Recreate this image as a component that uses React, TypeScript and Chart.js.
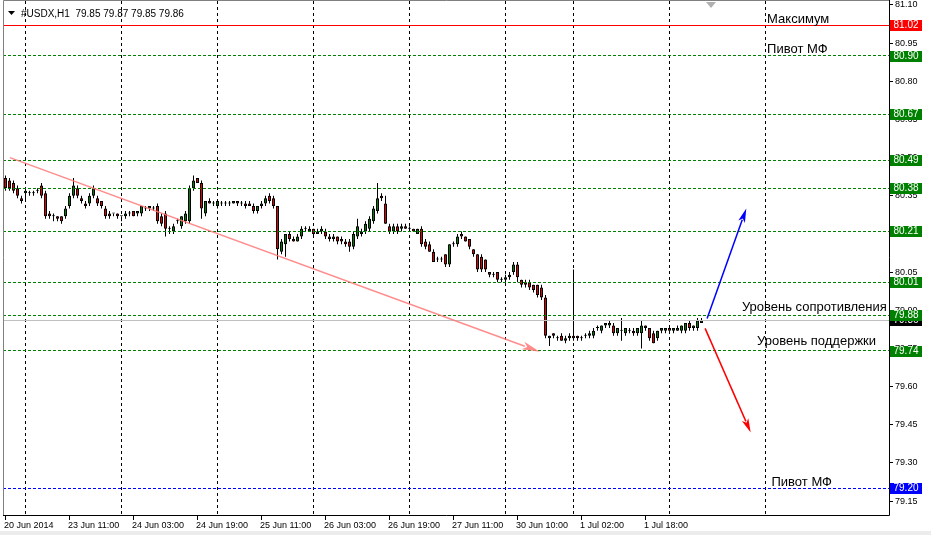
import React, { useEffect, useRef } from "react";
import { Chart, registerables } from "chart.js";

Chart.register(...registerables);

// ---------------- data ----------------
const headerText = "#USDX,H1  79.85 79.87 79.85 79.86";

// H1 candles, bar index 0..174 (oldest -> newest)
const opens = [
  80.42, 80.41, 80.40, 80.38, 80.34, 80.36, 80.36, 80.36, 80.37, 80.39,
  80.36, 80.28, 80.27, 80.27, 80.27, 80.27, 80.31, 80.35, 80.38, 80.34,
  80.32, 80.32, 80.35, 80.34, 80.33, 80.30, 80.28, 80.28, 80.28, 80.27,
  80.27, 80.28, 80.29, 80.28, 80.28, 80.30, 80.30, 80.30, 80.31, 80.27,
  80.28, 80.22, 80.21, 80.25, 80.23, 80.25, 80.25, 80.38, 80.42, 80.40,
  80.28, 80.33, 80.32, 80.31, 80.32, 80.32, 80.32, 80.32, 80.33, 80.32,
  80.32, 80.32, 80.31, 80.29, 80.31, 80.32, 80.35, 80.34, 80.31, 80.13,
  80.16, 80.20, 80.18, 80.17, 80.19, 80.22, 80.21, 80.22, 80.20, 80.21,
  80.21, 80.19, 80.18, 80.19, 80.18, 80.17, 80.17, 80.15, 80.19, 80.20,
  80.21, 80.22, 80.25, 80.29, 80.35, 80.32, 80.23, 80.21, 80.23, 80.22,
  80.23, 80.22, 80.22, 80.20, 80.22, 80.17, 80.16, 80.13, 80.10, 80.10,
  80.12, 80.08, 80.16, 80.16, 80.20, 80.19, 80.18, 80.14, 80.12, 80.11,
  80.10, 80.05, 80.04, 80.05, 80.02, 80.02, 80.03, 80.05, 80.08, 80.02,
  80.01, 80.01, 80.00, 80.00, 79.99, 79.95, 79.79, 79.81, 79.79, 79.80,
  79.78, 79.79, 79.80, 79.80, 79.79, 79.80, 79.80, 79.80, 79.83, 79.82,
  79.84, 79.84, 79.84, 79.81, 79.82, 79.81, 79.82, 79.82, 79.81, 79.81,
  79.84, 79.83, 79.81, 79.79, 79.82, 79.82, 79.83, 79.82, 79.82, 79.82,
  79.82, 79.85, 79.83, 79.83, 79.85,
];
const highs = [
  80.43, 80.42, 80.41, 80.39, 80.35, 80.38, 80.37, 80.37, 80.38, 80.40,
  80.37, 80.29, 80.28, 80.27, 80.27, 80.31, 80.36, 80.42, 80.39, 80.35,
  80.33, 80.36, 80.39, 80.35, 80.33, 80.31, 80.29, 80.28, 80.28, 80.27,
  80.29, 80.29, 80.29, 80.29, 80.31, 80.31, 80.31, 80.31, 80.32, 80.28,
  80.29, 80.23, 80.24, 80.26, 80.27, 80.29, 80.39, 80.43, 80.42, 80.41,
  80.33, 80.34, 80.33, 80.33, 80.33, 80.33, 80.33, 80.33, 80.33, 80.33,
  80.33, 80.33, 80.32, 80.31, 80.33, 80.35, 80.36, 80.35, 80.31, 80.18,
  80.20, 80.21, 80.19, 80.20, 80.23, 80.23, 80.23, 80.22, 80.22, 80.23,
  80.22, 80.20, 80.20, 80.19, 80.19, 80.18, 80.18, 80.21, 80.26, 80.22,
  80.25, 80.27, 80.31, 80.40, 80.36, 80.35, 80.24, 80.24, 80.24, 80.24,
  80.24, 80.23, 80.22, 80.22, 80.23, 80.18, 80.17, 80.14, 80.11, 80.11,
  80.12, 80.16, 80.17, 80.20, 80.21, 80.19, 80.18, 80.14, 80.12, 80.12,
  80.10, 80.05, 80.05, 80.05, 80.03, 80.04, 80.05, 80.09, 80.09, 80.02,
  80.02, 80.02, 80.00, 80.00, 80.00, 79.96, 79.80, 79.81, 79.80, 79.81,
  79.80, 79.81, 80.06, 79.80, 79.80, 79.81, 79.82, 79.83, 79.84, 79.84,
  79.85, 79.86, 79.85, 79.83, 79.87, 79.83, 79.83, 79.83, 79.83, 79.86,
  79.84, 79.83, 79.82, 79.82, 79.83, 79.83, 79.84, 79.83, 79.84, 79.84,
  79.85, 79.86, 79.84, 79.87, 79.87,
];
const lows = [
  80.37, 80.37, 80.36, 80.34, 80.32, 80.33, 80.35, 80.35, 80.36, 80.34,
  80.26, 80.26, 80.25, 80.25, 80.24, 80.26, 80.30, 80.34, 80.34, 80.32,
  80.30, 80.31, 80.34, 80.31, 80.30, 80.26, 80.26, 80.27, 80.26, 80.25,
  80.26, 80.27, 80.27, 80.27, 80.27, 80.29, 80.29, 80.29, 80.24, 80.23,
  80.19, 80.20, 80.20, 80.24, 80.22, 80.24, 80.24, 80.37, 80.40, 80.26,
  80.27, 80.32, 80.31, 80.30, 80.31, 80.31, 80.31, 80.32, 80.31, 80.31,
  80.30, 80.31, 80.28, 80.28, 80.30, 80.31, 80.32, 80.30, 80.10, 80.12,
  80.11, 80.17, 80.17, 80.17, 80.18, 80.21, 80.21, 80.19, 80.20, 80.20,
  80.18, 80.17, 80.17, 80.16, 80.16, 80.15, 80.13, 80.14, 80.18, 80.19,
  80.20, 80.21, 80.24, 80.28, 80.33, 80.24, 80.20, 80.20, 80.20, 80.21,
  80.22, 80.21, 80.21, 80.20, 80.15, 80.14, 80.13, 80.09, 80.09, 80.09,
  80.07, 80.07, 80.15, 80.15, 80.18, 80.17, 80.14, 80.11, 80.05, 80.05,
  80.05, 80.03, 80.03, 80.01, 80.01, 80.01, 80.02, 80.04, 80.01, 79.99,
  79.99, 79.98, 79.97, 79.95, 79.94, 79.79, 79.76, 79.79, 79.78, 79.78,
  79.77, 79.78, 79.78, 79.78, 79.78, 79.79, 79.79, 79.79, 79.82, 79.81,
  79.83, 79.83, 79.80, 79.80, 79.78, 79.80, 79.81, 79.80, 79.80, 79.75,
  79.82, 79.78, 79.77, 79.78, 79.81, 79.81, 79.82, 79.81, 79.82, 79.81,
  79.81, 79.82, 79.82, 79.82, 79.85,
];
const closes = [
  80.38, 80.38, 80.37, 80.35, 80.33, 80.37, 80.36, 80.36, 80.37, 80.35,
  80.27, 80.27, 80.27, 80.26, 80.25, 80.30, 80.35, 80.39, 80.35, 80.33,
  80.31, 80.35, 80.38, 80.32, 80.31, 80.27, 80.27, 80.28, 80.27, 80.27,
  80.28, 80.28, 80.27, 80.29, 80.31, 80.30, 80.31, 80.30, 80.25, 80.24,
  80.22, 80.22, 80.23, 80.25, 80.27, 80.28, 80.38, 80.41, 80.40, 80.30,
  80.33, 80.32, 80.32, 80.33, 80.32, 80.32, 80.32, 80.33, 80.32, 80.32,
  80.31, 80.31, 80.29, 80.31, 80.32, 80.34, 80.33, 80.31, 80.14, 80.17,
  80.20, 80.18, 80.17, 80.19, 80.22, 80.22, 80.22, 80.20, 80.21, 80.22,
  80.19, 80.18, 80.19, 80.17, 80.17, 80.16, 80.15, 80.20, 80.23, 80.21,
  80.24, 80.26, 80.30, 80.34, 80.34, 80.24, 80.21, 80.23, 80.21, 80.23,
  80.22, 80.22, 80.21, 80.22, 80.16, 80.15, 80.13, 80.09, 80.10, 80.10,
  80.08, 80.16, 80.16, 80.19, 80.19, 80.17, 80.15, 80.12, 80.06, 80.06,
  80.06, 80.04, 80.04, 80.02, 80.02, 80.03, 80.04, 80.08, 80.03, 80.00,
  80.00, 79.99, 79.98, 79.96, 79.95, 79.80, 79.80, 79.80, 79.79, 79.78,
  79.79, 79.80, 79.79, 79.79, 79.79, 79.80, 79.81, 79.82, 79.83, 79.84,
  79.85, 79.85, 79.81, 79.83, 79.82, 79.83, 79.82, 79.81, 79.83, 79.84,
  79.83, 79.79, 79.77, 79.82, 79.83, 79.83, 79.82, 79.83, 79.83, 79.84,
  79.85, 79.83, 79.84, 79.86, 79.86,
];

// time axis
const timeTickBars = [0, 16, 32, 48, 64, 80, 96, 112, 128, 144, 160];
const timeTickLabels = [
  "20 Jun 2014", "23 Jun 11:00", "24 Jun 03:00", "24 Jun 19:00", "25 Jun 11:00",
  "26 Jun 03:00", "26 Jun 19:00", "27 Jun 11:00", "30 Jun 10:00", "1 Jul 02:00", "1 Jul 18:00",
];
const gridBars = [5, 29, 53, 77, 101, 125, 142, 166, 190];

// price axis
const priceTicks = [81.1, 80.95, 80.8, 80.65, 80.5, 80.35, 80.2, 80.05, 79.9, 79.75, 79.6, 79.45, 79.3, 79.15];
const priceMin = 79.0953;
const priceMax = 81.1157;
const barMin = -0.625;
const barMax = 220.875;

// levels
const maximumLevel = 81.02;
const greenLevels = [80.9, 80.67, 80.49, 80.38, 80.21, 80.01, 79.88, 79.74];
const pivotLowLevel = 79.2;
const lastPrice = 79.86;

// drawn objects (bar index, price)
const trendBars = [1.1, 133.6];
const trendPrices = [80.5, 79.737];
const upArrowBars = [175.4, 185.2];
const upArrowPrices = [79.868, 80.3];
const downArrowBars = [174.9, 186.3];
const downArrowPrices = [79.829, 79.42];

// text objects
const noteTexts = ["Максимум", "Пивот МФ", "Уровень сопротивления", "Уровень поддержки", "Пивот МФ"];
const noteBars = [190.4, 190.4, 184.1, 187.9, 191.5];
const notePrices = [81.029, 80.911, 79.899, 79.762, 79.209];

// ---------------- drawing ----------------
const FONT = "'Liberation Sans', Arial, sans-serif";
const crisp = (v: number) => Math.floor(v) + 0.5;

function drawArrow(ctx: CanvasRenderingContext2D, x1: number, y1: number, x2: number, y2: number, color: string, lw: number, headLen: number, headW: number) {
  const ang = Math.atan2(y2 - y1, x2 - x1);
  const bx = x2 - Math.cos(ang) * headLen;
  const by = y2 - Math.sin(ang) * headLen;
  ctx.save();
  ctx.strokeStyle = color;
  ctx.fillStyle = color;
  ctx.lineWidth = lw;
  ctx.setLineDash([]);
  ctx.beginPath();
  ctx.moveTo(x1, y1);
  ctx.lineTo(bx + Math.cos(ang) * 2, by + Math.sin(ang) * 2);
  ctx.stroke();
  const nx = -Math.sin(ang), ny = Math.cos(ang);
  const nbx = x2 - Math.cos(ang) * headLen * 0.75;
  const nby = y2 - Math.sin(ang) * headLen * 0.75;
  ctx.beginPath();
  ctx.moveTo(x2, y2);
  ctx.lineTo(bx + nx * headW, by + ny * headW);
  ctx.lineTo(nbx, nby);
  ctx.lineTo(bx - nx * headW, by - ny * headW);
  ctx.closePath();
  ctx.fill();
  ctx.restore();
}

const mt4Plugin = {
  id: "mt4",
  beforeDraw(chart: any) {
    const { ctx, width, height } = chart;
    ctx.save();
    ctx.fillStyle = "#ffffff";
    ctx.fillRect(0, 0, width, height);
    ctx.fillStyle = "#ececec";
    ctx.fillRect(0, 531, width, height - 531);
    ctx.restore();
  },
  beforeDatasetsDraw(chart: any) {
    const { ctx, chartArea: a, scales } = chart;
    const x = scales.x;
    ctx.save();
    ctx.strokeStyle = "#000000";
    ctx.lineWidth = 1;
    ctx.setLineDash([3, 3]);
    gridBars.forEach((b) => {
      const px = crisp(x.getPixelForValue(b));
      ctx.beginPath();
      ctx.moveTo(px, a.top);
      ctx.lineTo(px, a.bottom);
      ctx.stroke();
    });
    ctx.restore();
  },
  afterDatasetsDraw(chart: any) {
    const { ctx, chartArea: a, scales } = chart;
    const x = scales.x, y = scales.y;
    ctx.save();
    ctx.lineWidth = 1;
    // last price line
    ctx.setLineDash([]);
    ctx.strokeStyle = "#c0c0c0";
    let py = crisp(y.getPixelForValue(lastPrice));
    ctx.beginPath(); ctx.moveTo(a.left, py); ctx.lineTo(a.right, py); ctx.stroke();
    // maximum
    ctx.strokeStyle = "#ff0000";
    py = crisp(y.getPixelForValue(maximumLevel));
    ctx.beginPath(); ctx.moveTo(a.left, py); ctx.lineTo(a.right, py); ctx.stroke();
    // green levels
    ctx.setLineDash([3, 2]);
    ctx.strokeStyle = "#008000";
    greenLevels.forEach((v) => {
      const p = crisp(y.getPixelForValue(v));
      ctx.beginPath(); ctx.moveTo(a.left, p); ctx.lineTo(a.right, p); ctx.stroke();
    });
    // low pivot
    ctx.strokeStyle = "#0000ff";
    py = crisp(y.getPixelForValue(pivotLowLevel));
    ctx.beginPath(); ctx.moveTo(a.left, py); ctx.lineTo(a.right, py); ctx.stroke();
    ctx.restore();

    // trend line & arrows
    drawArrow(ctx,
      x.getPixelForValue(trendBars[0]), y.getPixelForValue(trendPrices[0]),
      x.getPixelForValue(trendBars[1]), y.getPixelForValue(trendPrices[1]),
      "rgba(255,120,120,0.85)", 1.5, 18, 4);
    drawArrow(ctx,
      x.getPixelForValue(upArrowBars[0]), y.getPixelForValue(upArrowPrices[0]),
      x.getPixelForValue(upArrowBars[1]), y.getPixelForValue(upArrowPrices[1]),
      "#0000ff", 1.5, 14, 3.5);
    drawArrow(ctx,
      x.getPixelForValue(downArrowBars[0]), y.getPixelForValue(downArrowPrices[0]),
      x.getPixelForValue(downArrowBars[1]), y.getPixelForValue(downArrowPrices[1]),
      "#ff0000", 1.5, 14, 3.5);
  },
  afterDraw(chart: any) {
    const { ctx, chartArea: a, scales } = chart;
    const x = scales.x, y = scales.y;
    ctx.save();
    ctx.setLineDash([]);
    ctx.lineWidth = 1;
    // frame
    ctx.strokeStyle = "#808080";
    ctx.beginPath();
    ctx.moveTo(a.left + 0.5, a.bottom); ctx.lineTo(a.left + 0.5, a.top - 0.5); ctx.lineTo(a.right, a.top - 0.5);
    ctx.stroke();
    ctx.strokeStyle = "#000000";
    ctx.beginPath();
    ctx.moveTo(a.right + 0.5, 0); ctx.lineTo(a.right + 0.5, a.bottom + 0.5); ctx.lineTo(a.left, a.bottom + 0.5);
    ctx.stroke();

    // chart shift marker
    ctx.fillStyle = "#b0b0b0";
    ctx.beginPath();
    ctx.moveTo(706, 2); ctx.lineTo(716, 2); ctx.lineTo(711, 8); ctx.closePath();
    ctx.fill();

    // price ticks
    ctx.fillStyle = "#000000";
    ctx.font = `9px ${FONT}`;
    ctx.textAlign = "left";
    ctx.textBaseline = "middle";
    priceTicks.forEach((v) => {
      const p = crisp(y.getPixelForValue(v));
      ctx.beginPath(); ctx.moveTo(a.right, p); ctx.lineTo(a.right + 4, p); ctx.stroke();
      ctx.fillText(v.toFixed(2), a.right + 6, p);
    });

    // time ticks
    ctx.textBaseline = "alphabetic";
    timeTickBars.forEach((b, i) => {
      const px = crisp(x.getPixelForValue(b));
      ctx.beginPath(); ctx.moveTo(px, a.bottom + 1); ctx.lineTo(px, a.bottom + 5); ctx.stroke();
      ctx.fillText(timeTickLabels[i], px - 1.5, a.bottom + 12.5);
    });

    // price boxes
    const box = (v: number, bg: string) => {
      const p = y.getPixelForValue(v);
      ctx.fillStyle = bg;
      ctx.fillRect(a.right + 1, Math.round(p) - 5, 32, 11);
      ctx.fillStyle = "#ffffff";
      ctx.font = `10px ${FONT}`;
      ctx.textAlign = "center";
      ctx.textBaseline = "middle";
      ctx.fillText(v.toFixed(2), a.right + 17, Math.round(p) + 0.5);
    };
    box(lastPrice, "#000000");
    box(maximumLevel, "#ff0000");
    greenLevels.forEach((v) => box(v, "#008000"));
    box(pivotLowLevel, "#0000ff");

    // text objects
    ctx.fillStyle = "#000000";
    ctx.font = `13px ${FONT}`;
    ctx.textAlign = "left";
    ctx.textBaseline = "alphabetic";
    noteTexts.forEach((t, i) => {
      ctx.fillText(t, x.getPixelForValue(noteBars[i]), y.getPixelForValue(notePrices[i]));
    });

    // header
    ctx.fillStyle = "#000000";
    ctx.beginPath();
    ctx.moveTo(8, 11); ctx.lineTo(15, 11); ctx.lineTo(11.5, 15); ctx.closePath();
    ctx.fill();
    ctx.font = `10px ${FONT}`;
    ctx.fillText(headerText, 21, 17);
    ctx.restore();
  },
};

export default function App() {
  const ref = useRef<HTMLCanvasElement>(null);
  useEffect(() => {
    const bodies = opens.map((o, i) => ({ x: i, y: [o, closes[i]] }));
    const wicks = opens.map((_, i) => ({ x: i, y: [lows[i], highs[i]] }));
    const bodyColors = opens.map((o, i) => (closes[i] > o ? "#008000" : closes[i] < o ? "#e00000" : "#000000"));
    const chart = new Chart(ref.current as HTMLCanvasElement, {
      type: "bar",
      data: {
        datasets: [
          {
            label: "body",
            data: bodies as any,
            backgroundColor: bodyColors,
            borderColor: "#000000",
            borderWidth: 1,
            borderSkipped: false,
            barThickness: 3,
            minBarLength: 1,
            grouped: false,
            order: 0,
            inflateAmount: 0,
          } as any,
          {
            label: "wick",
            data: wicks as any,
            backgroundColor: "#000000",
            borderWidth: 0,
            barThickness: 1,
            grouped: false,
            order: 1,
            inflateAmount: 0,
          } as any,
        ],
      },
      options: {
        animation: false,
        responsive: false,
        devicePixelRatio: 1,
        events: [],
        layout: { padding: { left: 3, top: 1, right: 42, bottom: 20 } },
        plugins: { legend: { display: false }, tooltip: { enabled: false } },
        scales: {
          x: { type: "linear", min: barMin, max: barMax, offset: false, display: false },
          y: { type: "linear", min: priceMin, max: priceMax, display: false },
        },
      } as any,
      plugins: [mt4Plugin],
    });
    return () => chart.destroy();
  }, []);
  return (
    <div style={{ position: "absolute", left: 0, top: 0, width: 931, height: 535, background: "#fff" }}>
      <canvas ref={ref} width={931} height={535} style={{ display: "block", width: 931, height: 535 }} />
    </div>
  );
}
